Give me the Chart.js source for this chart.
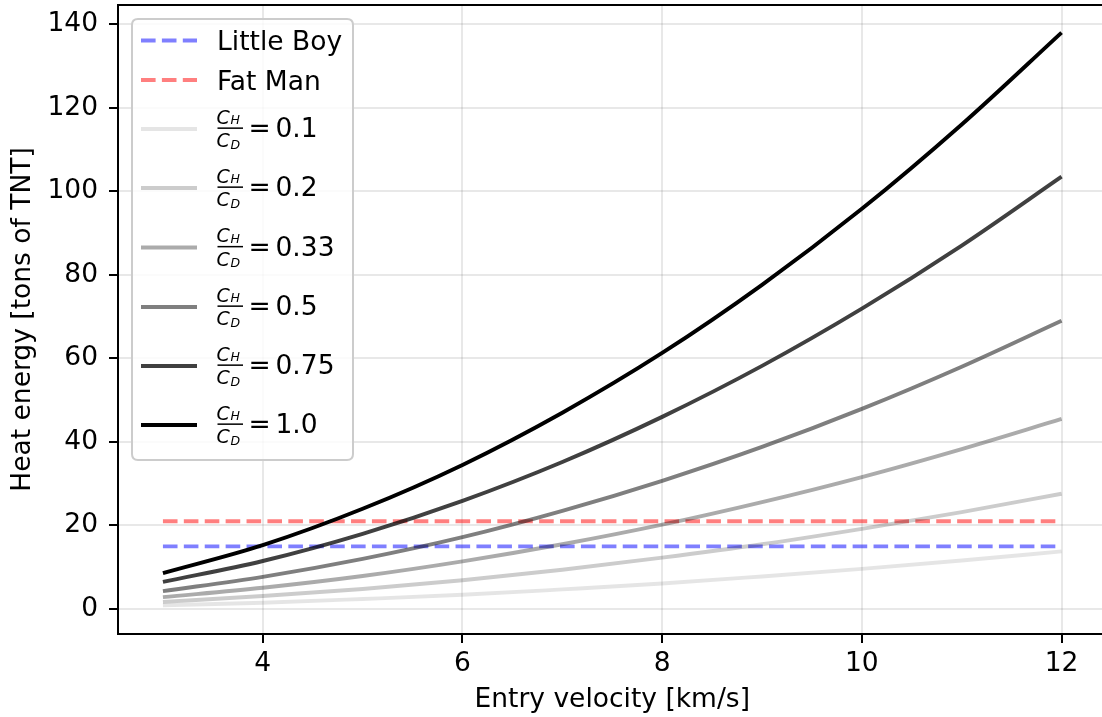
<!DOCTYPE html>
<html><head><meta charset="utf-8">
<script src="https://cdn.jsdelivr.net/npm/chart.js@4.4.1/dist/chart.umd.min.js"></script>
<style>
html,body{margin:0;padding:0;background:#fff;overflow:hidden;width:1102px;height:717px}
#wrap{position:absolute;left:0;top:0;width:1112px;height:717px}
</style>
</head><body><div id="wrap"><canvas id="c" width="1112" height="717"></canvas></div>
<script>
// ---- data ----
const velocities = [3, 4, 5, 6, 7, 8, 9, 10, 11, 12];
const ratioLabels = ['0.1', '0.2', '0.33', '0.5', '0.75', '1.0'];
const heat_0_1  = [0.9, 1.5, 2.4, 3.4, 4.7, 6.1, 7.8, 9.6, 11.6, 13.8];
const heat_0_2  = [1.7, 3.1, 4.8, 6.9, 9.4, 12.3, 15.5, 19.2, 23.2, 27.6];
const heat_0_33 = [2.85, 5.1, 7.9, 11.4, 15.5, 20.2, 25.6, 31.6, 38.3, 45.5];
const heat_0_5  = [4.3, 7.7, 12.0, 17.2, 23.5, 30.7, 38.8, 47.9, 58.0, 69.0];
const heat_0_75 = [6.5, 11.5, 18.0, 25.9, 35.2, 46.0, 58.2, 71.9, 87.0, 103.5];
const heat_1_0  = [8.6, 15.3, 24.0, 34.5, 47.0, 61.3, 77.6, 95.8, 116.0, 138.0];
const littleBoy = 15;   // tons of TNT
const fatMan = 21;      // tons of TNT
const xTicks = [4, 6, 8, 10, 12];
const yTicks = [0, 20, 40, 60, 80, 100, 120, 140];

// ---- styles ----
const FONT = "'DejaVu Sans'";
const FS = 26.5;
const LW = 3.9;
const DASH = [14.6, 6.3];
const curveSeries = [heat_0_1, heat_0_2, heat_0_33, heat_0_5, heat_0_75, heat_1_0];

const pts = (ys) => velocities.map((v, i) => ({x: v, y: ys[i]}));
const flat = (val) => [{x: velocities[0], y: val}, {x: velocities[velocities.length - 1], y: val}];

const datasets = [
  {label: 'Little Boy', data: flat(littleBoy), borderColor: 'rgba(0,0,255,0.5)', borderDash: DASH},
  {label: 'Fat Man', data: flat(fatMan), borderColor: 'rgba(255,0,0,0.5)', borderDash: DASH},
];
curveSeries.forEach((s, i) => {
  datasets.push({label: 'C_H/C_D = ' + ratioLabels[i], ratio: ratioLabels[i], data: pts(s),
    borderColor: 'rgba(0,0,0,' + parseFloat(ratioLabels[i]) + ')', cubicInterpolationMode: 'monotone'});
});
datasets.forEach((d, i) => {
  d.borderWidth = LW; d.pointRadius = 0; d.fill = false; d.order = datasets.length - i;
  d.borderCapStyle = 'butt';
});

const spinePlugin = {
  id: 'spines',
  afterDatasetsDraw(chart) {
    const {ctx, chartArea: a} = chart;
    ctx.save();
    ctx.strokeStyle = '#000'; ctx.lineWidth = 2;
    ctx.beginPath(); ctx.moveTo(a.left, a.top); ctx.lineTo(a.right, a.top); ctx.lineTo(a.right, a.bottom); ctx.stroke();
    ctx.restore();
  }
};

function rr(ctx, x, y, w, h, r) {
  ctx.beginPath();
  ctx.moveTo(x + r, y); ctx.lineTo(x + w - r, y); ctx.quadraticCurveTo(x + w, y, x + w, y + r);
  ctx.lineTo(x + w, y + h - r); ctx.quadraticCurveTo(x + w, y + h, x + w - r, y + h);
  ctx.lineTo(x + r, y + h); ctx.quadraticCurveTo(x, y + h, x, y + h - r);
  ctx.lineTo(x, y + r); ctx.quadraticCurveTo(x, y, x + r, y); ctx.closePath();
}

const legendPlugin = {
  id: 'mplLegend',
  afterDraw(chart) {
    const ctx = chart.ctx;
    ctx.save();
    rr(ctx, 132, 19, 221, 441, 6);
    ctx.fillStyle = 'rgba(255,255,255,0.8)'; ctx.fill();
    ctx.strokeStyle = '#cccccc'; ctx.lineWidth = 2; ctx.stroke();
    const rows = [40.5, 80, 129, 188, 247.5, 307, 366, 425];
    chart.data.datasets.forEach((ds, i) => {
      const y = rows[i];
      ctx.beginPath();
      ctx.setLineDash(ds.borderDash || []);
      ctx.strokeStyle = ds.borderColor; ctx.lineWidth = ds.borderWidth; ctx.lineCap = 'butt';
      ctx.moveTo(141, y); ctx.lineTo(197, y); ctx.stroke();
      ctx.setLineDash([]);
      ctx.fillStyle = '#000'; ctx.textBaseline = 'alphabetic'; ctx.textAlign = 'left';
      if (!ds.ratio) {
        ctx.font = FS + 'px ' + FONT;
        ctx.fillText(ds.label, 217, y + 9.5);
      } else {
        // fraction C_H / C_D
        ctx.font = 'italic 19px ' + FONT;
        ctx.fillText('C', 216.5, y - 5.3);
        ctx.fillText('C', 216.5, y + 18);
        ctx.font = 'italic 12.5px ' + FONT;
        ctx.fillText('H', 230.5, y - 4.6);
        ctx.fillText('D', 230.5, y + 19.6);
        ctx.fillRect(217.5, y - 1.6, 25.5, 1.5);
        ctx.font = FS + 'px ' + FONT;
        ctx.fillText('=', 248.5, y + 8.3);
        ctx.fillText(ds.ratio, 275.5, y + 8.3);
      }
    });
    ctx.restore();
  }
};

Chart.defaults.font.family = FONT;
Chart.defaults.font.size = FS;
Chart.defaults.color = '#000';

new Chart(document.getElementById('c'), {
  type: 'line',
  data: {datasets},
  options: {
    responsive: false, animation: false,
    layout: {padding: {left: 0, top: 5, right: 5.5, bottom: 0}},
    plugins: {legend: {display: false}, tooltip: {enabled: false}},
    scales: {
      x: {
        type: 'linear', min: 2.55, max: 12.45,
        afterBuildTicks: (s) => { s.ticks = xTicks.map(v => ({value: v})); },
        afterFit: (s) => { s.height = 83; s.paddingLeft = 0; s.paddingRight = 0; },
        ticks: {padding: 5.5, color: '#000', font: {size: FS}, maxRotation: 0, autoSkip: false},
        grid: {color: 'rgba(0,0,0,0.09)', lineWidth: 2, tickLength: 9, tickColor: '#000', tickWidth: 2},
        border: {display: true, color: '#000', width: 2},
        title: {display: true, text: 'Entry velocity [km/s]', color: '#000', font: {size: FS}, padding: {top: 0, bottom: 1}}
      },
      y: {
        type: 'linear', min: -5.98, max: 144.6,
        afterBuildTicks: (s) => { s.ticks = yTicks.map(v => ({value: v})); },
        afterFit: (s) => { s.width = 118; s.paddingTop = 0; s.paddingBottom = 0; },
        ticks: {padding: 11, color: '#000', font: {size: FS}, autoSkip: false},
        grid: {color: 'rgba(0,0,0,0.09)', lineWidth: 2, tickLength: 9, tickColor: '#000', tickWidth: 2},
        border: {display: true, color: '#000', width: 2},
        title: {display: true, text: 'Heat energy [tons of TNT]', color: '#000', font: {size: FS}, padding: {top: 7.5, bottom: 0}}
      }
    }
  },
  plugins: [spinePlugin, legendPlugin]
});
</script>
</body></html>
